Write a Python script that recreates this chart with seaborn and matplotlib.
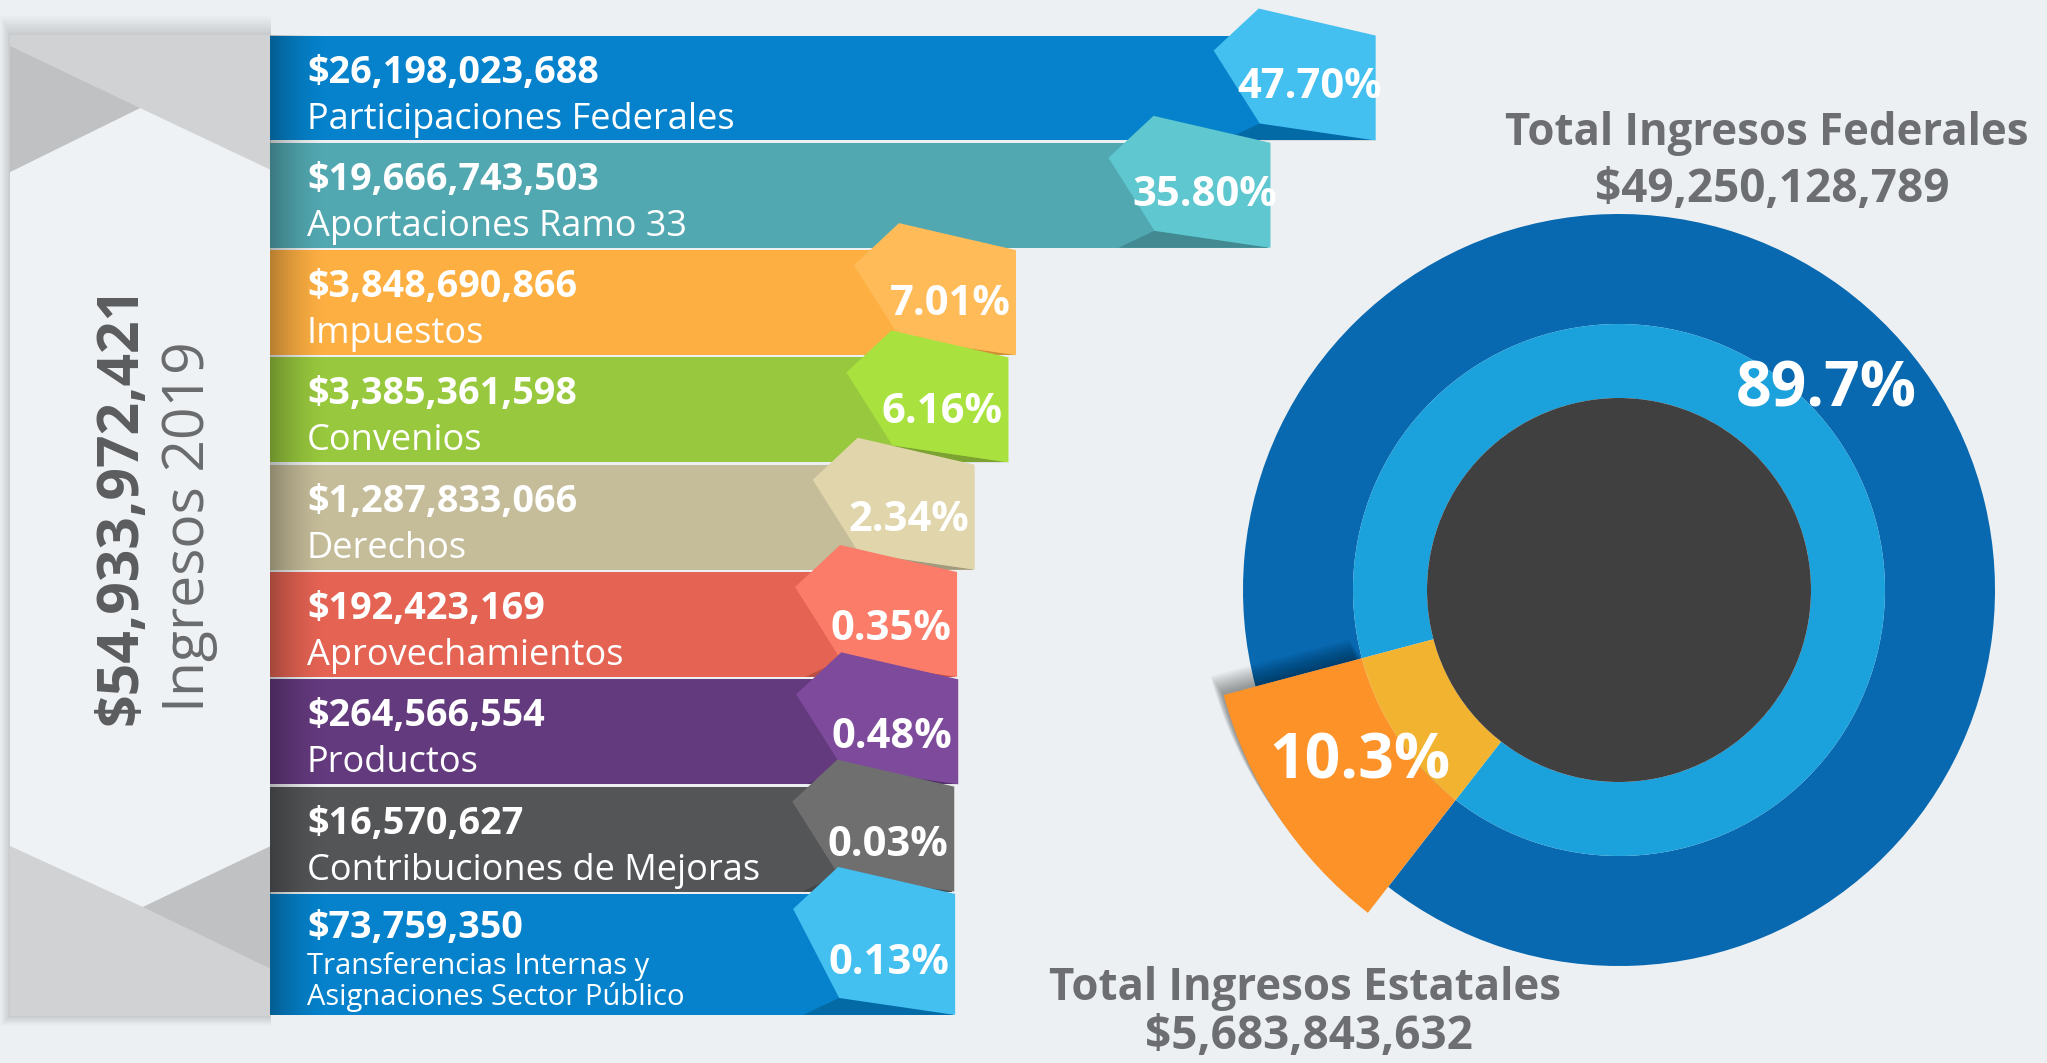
import numpy as np
import pandas as pd
import matplotlib
matplotlib.use('Agg')
import matplotlib.pyplot as plt
import matplotlib.transforms as mtransforms
from matplotlib.patches import Polygon, Rectangle, Circle
from matplotlib import font_manager as fm
import seaborn as sns

# Ingresos 2019 por rubro
rubros = ['Participaciones Federales', 'Aportaciones Ramo 33', 'Impuestos', 'Convenios',
          'Derechos', 'Aprovechamientos', 'Productos', 'Contribuciones de Mejoras',
          'Transferencias Internas y\nAsignaciones Sector Público']
montos = [26198023688, 19666743503, 3848690866, 3385361598, 1287833066,
          192423169, 264566554, 16570627, 73759350]
porcentajes = [47.70, 35.80, 7.01, 6.16, 2.34, 0.35, 0.48, 0.03, 0.13]
origen = ['Federal', 'Federal', 'Estatal', 'Federal', 'Estatal',
          'Estatal', 'Estatal', 'Estatal', 'Estatal']
anio = 2019

bar_colors = ['#0582cb', '#52a8b1', '#fdaf42', '#98c83d', '#c5bc99',
              '#e56353', '#643a7e', '#545557', '#0582cb']
tag_colors = ['#43bff0', '#5ec7cf', '#ffbb58', '#a9e23f', '#e0d5ab',
              '#fb7c69', '#7e4a9c', '#6f6f70', '#43bff0']
GRIS = '#6d6e71'
BG = '#edf0f2'

W, H = 2047, 1063
sns.set_theme(style='white')
plt.rcParams['font.family'] = ['Open Sans', 'DejaVu Sans']


def font_ok(name):
    try:
        fm.findfont(fm.FontProperties(family=name), fallback_to_default=False)
        return True
    except ValueError:
        return False


if font_ok('Liberation Sans Narrow'):
    title_font, title_size, amount_size = ['Liberation Sans Narrow', 'DejaVu Sans'], 39, 41
else:
    title_font, title_size, amount_size = ['Open Sans', 'DejaVu Sans'], 31.5, 33

df = pd.DataFrame({'rubro': rubros, 'monto': montos, 'pct': porcentajes, 'origen': origen})
total = df['monto'].sum()

fig = plt.figure(figsize=(W / 100, H / 100), dpi=100, facecolor=BG)

# background layer in pixel units
bg = fig.add_axes([0, 0, 1, 1])
bg.set_xlim(0, W)
bg.set_ylim(H, 0)
bg.axis('off')

# left panel with soft shadow
for k in range(12, 0, -1):
    bg.add_patch(Rectangle((10 - 0.8 * k, 35 - 1.6 * k), 261 + 0.8 * k, 981 + 2.4 * k,
                           color='black', alpha=0.012, lw=0))
bg.add_patch(Rectangle((10, 35), 261, 981, color='#eff2f4', lw=0))
bg.add_patch(Polygon([(10, 35), (271, 35), (271, 170), (140, 108), (10, 172)],
                     closed=True, color='#d1d2d4', lw=0))
bg.add_patch(Polygon([(10, 46), (140, 108), (10, 172)], closed=True, color='#c0c1c3', lw=0))
bg.add_patch(Polygon([(10, 846), (143, 907), (271, 846), (271, 1016), (10, 1016)],
                     closed=True, color='#d1d2d4', lw=0))
bg.add_patch(Polygon([(143, 907), (271, 846), (271, 969)], closed=True, color='#c0c1c3', lw=0))

bg.text(121, 505, f'${total:,}', rotation=90, ha='center', va='center',
        fontsize=41, fontweight='bold', color='#5b5c5e')
bg.text(189, 527, f'Ingresos {anio}', rotation=90, ha='center', va='center',
        fontsize=41, color='#6a6b6d')

# bars
PX_PER_PCT = 8.84
ROW_PX = 107.3
YMAX = 8.75
ax_w = 1130
ax_h = (YMAX + 0.5) * ROW_PX
ax = fig.add_axes([270 / W, 1 - (34.35 + ax_h) / H, ax_w / W, ax_h / H])
ax.patch.set_alpha(0)

# room for the texts before the proportional part of each bar
ESPACIO = 682 / PX_PER_PCT
df['largo'] = ESPACIO + df['pct']
sns.barplot(data=df, x='largo', y='rubro', hue='rubro', palette=bar_colors, orient='h',
            width=0.978, saturation=1, legend=False, errorbar=None, linewidth=0, ax=ax)
ax.set_xlim(0, ax_w / PX_PER_PCT)
ax.set_ylim(YMAX, -0.5)
ax.axis('off')

bars = sorted(ax.patches, key=lambda p: p.get_y())
bars[-1].set_height(121 / ROW_PX)

# shadow cast by the panel on the start of the bars
grad = np.zeros((1, 80, 4))
grad[..., 3] = np.linspace(0.28, 0, 80) ** 1.6 / 0.28 ** 0.6
ax.imshow(grad, extent=(0, 58 / PX_PER_PCT, bars[-1].get_y() + bars[-1].get_height(), bars[0].get_y()),
          aspect='auto', zorder=3, interpolation='bilinear')
ax.set_xlim(0, ax_w / PX_PER_PCT)
ax.set_ylim(YMAX, -0.5)


def px(xd, yd):
    return mtransforms.Affine2D().scale(1, -1) + mtransforms.ScaledTranslation(xd, yd, ax.transData)


def off(dx, dy):
    return mtransforms.offset_copy(ax.transData, fig=fig, x=dx, y=-dy, units='dots')


for i, bar in enumerate(bars):
    right = bar.get_x() + bar.get_width()
    top = bar.get_y()
    h = bar.get_height() * ROW_PX
    ax.add_patch(Polygon([(-114, h - 17), (2, h), (-150, h)], closed=True,
                         transform=px(right, top), color='black', alpha=0.18, lw=0,
                         zorder=4, clip_on=False))
    ax.add_patch(Polygon([(-115, -27), (2, 0), (2, h), (-114, h - 17), (-160, 15)], closed=True,
                         transform=px(right, top), color=tag_colors[i], lw=0,
                         zorder=4, clip_on=False))
    ax.text(0, top, f"{df['pct'][i]:.2f}%", transform=mtransforms.offset_copy(
        px(right, top), fig=fig, x=-64, y=-0.6 * h, units='dots'),
        ha='center', va='baseline', fontsize=30, fontweight='bold', color='white',
        zorder=6, clip_on=False)

    lines = df['rubro'][i].split('\n')
    if len(lines) == 1:
        ax.text(0, top, f"${df['monto'][i]:,}", transform=off(37, 47), va='baseline',
                fontsize=27.2, fontweight='bold', color='white', zorder=6)
        ax.text(0, top, lines[0], transform=off(37, 93), va='baseline',
                fontsize=26, color='white', zorder=6)
    else:
        ax.text(0, top, f"${df['monto'][i]:,}", transform=off(37, 44), va='baseline',
                fontsize=27.2, fontweight='bold', color='white', zorder=6)
        for j, line in enumerate(lines):
            ax.text(0, top, line, transform=off(37, 80 + 31 * j), va='baseline',
                    fontsize=21, color='white', zorder=6)

# donut federal vs estatal
fed = df.loc[df['origen'] == 'Federal', 'monto'].sum()
est = df.loc[df['origen'] == 'Estatal', 'monto'].sum()
shares = [fed, est]
frac = np.array(shares) / sum(shares)
start = 213.5 - 360 * (frac[0] + frac[1] / 2)

R_OUT, R_MID, R_IN, R_EST = 1.0, 266 / 376, 192 / 376, 409 / 376
half = 451
dax = fig.add_axes([(1619 - half) / W, 1 - (590 + half) / H, 2 * half / W, 2 * half / H])
dax.pie(shares, radius=R_OUT, colors=['#0868b0', 'none'], startangle=start,
        wedgeprops=dict(width=R_OUT - R_MID, linewidth=0))
for k in np.linspace(1, 0.1, 12):
    dax.pie(shares, radius=R_EST, center=(-0.035 * k, 0.05 * k), colors=['none', 'black'],
            startangle=start, wedgeprops=dict(width=R_EST - R_MID, linewidth=0, alpha=0.035))
dax.pie(shares, radius=R_EST, colors=['none', '#fd9229'], startangle=start,
        wedgeprops=dict(width=R_EST - R_MID, linewidth=0))
dax.pie(shares, radius=R_MID, colors=['#1ba1db', '#f2b331'], startangle=start,
        wedgeprops=dict(width=R_MID - R_IN, linewidth=0))
dax.add_patch(Circle((0, 0), R_IN, color='#404040', lw=0))

ang_fed = np.deg2rad(44)
ang_est = np.deg2rad(start + 360 * (frac[0] + frac[1] / 2))
dax.text(0.766 * np.cos(ang_fed), 0.766 * np.sin(ang_fed), f'{frac[0] * 100:.1f}%',
         ha='center', va='center', fontsize=45, fontweight='bold', color='white')
dax.text(0.827 * np.cos(ang_est), 0.827 * np.sin(ang_est), f'{frac[1] * 100:.1f}%',
         ha='center', va='center', fontsize=45, fontweight='bold', color='white')
dax.set_xlim(-half / 376, half / 376)
dax.set_ylim(-half / 376, half / 376)
dax.axis('off')

# titles
bg.text(1767, 145, 'Total Ingresos Federales', ha='center', va='baseline',
        fontsize=title_size, fontweight='bold', color=GRIS, family=title_font)
bg.text(1772, 202, f'${fed:,}', ha='center', va='baseline',
        fontsize=amount_size, fontweight='bold', color=GRIS, family=title_font)
bg.text(1305, 1000, 'Total Ingresos Estatales', ha='center', va='baseline',
        fontsize=title_size, fontweight='bold', color=GRIS, family=title_font)
bg.text(1309, 1049, f'${est:,}', ha='center', va='baseline',
        fontsize=amount_size, fontweight='bold', color=GRIS, family=title_font)

fig.savefig('out.png', dpi=100, facecolor=BG)
